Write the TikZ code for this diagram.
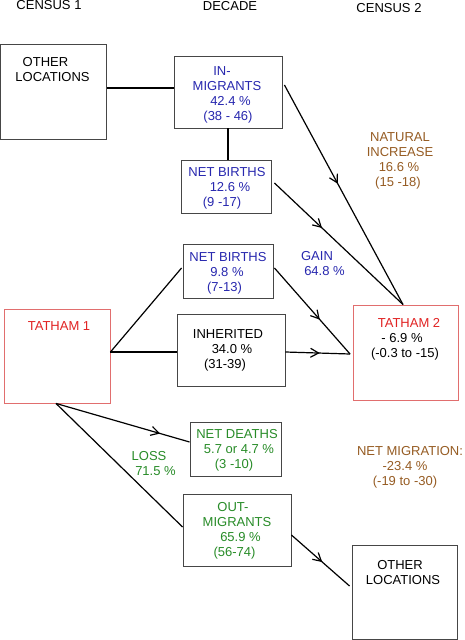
\documentclass[tikz,border=0pt]{standalone}
\usepackage{fontspec}
\setmainfont{Liberation Sans}
\usetikzlibrary{arrows.meta,decorations.markings}
\definecolor{cblue}{RGB}{40,40,175}
\definecolor{cbrown}{RGB}{150,92,35}
\definecolor{cred}{RGB}{225,35,35}
\definecolor{cgreen}{RGB}{40,140,40}
\definecolor{cborder}{RGB}{70,70,70}
\definecolor{credborder}{RGB}{225,110,110}
\newcommand\Ln[2][0pt]{\kern#1\relax\strut#2\kern-#1\relax}
\begin{document}
\begin{tikzpicture}[x=1pt,y=-1pt,
  box/.style={draw=cborder,line width=0.9pt,inner sep=0pt,minimum width=#1},
  rbox/.style={draw=credborder,line width=0.9pt,inner sep=0pt,minimum width=#1},
  txt/.style={inner sep=0pt,align=center,font=\fontsize{13}{15}\selectfont},
  conn/.style={line width=1.2pt,black},
  midarr/.style={postaction={decorate},decoration={markings,
     mark=at position #1 with {\arrow{Straight Barb[length=8pt,width=9pt,line width=1.2pt]}}}}
]
\useasboundingbox (0,0) rectangle (464,640);
\fill[white] (0,0) rectangle (464,640);

% boxes
\node[box=106pt,minimum height=95pt] (ol1) at (53.5,91.5) {};
\node[box=108pt,minimum height=72pt] (inm) at (228,92) {};
\node[box=90pt,minimum height=53pt] (nb1) at (226,186.5) {};
\node[box=90pt,minimum height=54pt] (nb2) at (228,271) {};
\node[box=108pt,minimum height=72pt] (inh) at (231,350) {};
\node[rbox=106pt,minimum height=94pt] (t1) at (57,356) {};
\node[rbox=105pt,minimum height=95pt] (t2) at (405.5,352.5) {};
\node[box=91pt,minimum height=54pt] (nd) at (235.5,449) {};
\node[box=108pt,minimum height=72pt] (om) at (237,530) {};
\node[box=105pt,minimum height=94pt] (ol2) at (404.5,592) {};

% headings
\node[txt] (h1) at (49,6) {\Ln{CENSUS 1}};
\node[txt] (h2) at (230,7) {\Ln{DECADE}};
\node[txt] (h3) at (389,9.7) {\Ln{CENSUS 2}};

% texts
\node[txt] (ol1t) at (52.5,71) {\Ln[-7pt]{OTHER}\\\Ln{LOCATIONS}};
\node[txt,text=cblue] (inmt) at (227,95.2) {\Ln[-5pt]{IN-}\\\Ln{MIGRANTS}\\\Ln[3.5pt]{42.4 \%}\\\Ln[1pt]{(38 - 46)}};
\node[txt,text=cblue] (nb1t) at (227,188.6) {\Ln{NET BIRTHS}\\\Ln[3pt]{12.6 \%}\\\Ln[-5pt]{(9 -17)}};
\node[txt,text=cblue] (nb2t) at (228,273.6) {\Ln{NET BIRTHS}\\\Ln[-1pt]{9.8 \%}\\\Ln[-3.5pt]{(7-13)}};
\node[txt] (inht) at (228,350.6) {\Ln{INHERITED}\\\Ln[4pt]{34.0 \%}\\\Ln[-3pt]{(31-39)}};
\node[txt,text=cred] (t1t) at (59,327.6) {\Ln{TATHAM 1}};
\node[txt] (t2t) at (405,339.6) {\Ln[4pt]{\textcolor{cred}{TATHAM 2}}\\\Ln[-3pt]{- 6.9 \%}\\\Ln{(-0.3 to -15)}};
\node[txt,text=cblue] (gain) at (321,265.1) {\Ln[-4pt]{GAIN}\\\Ln[3.5pt]{64.8 \%}};
\node[txt,text=cbrown] (nat) at (400,161.4) {\Ln{NATURAL}\\\Ln{INCREASE}\\\Ln[-1pt]{16.6 \%}\\\Ln[-2pt]{(15 -18)}};
\node[txt,text=cgreen] (ndt) at (237,450.6) {\Ln{NET DEATHS}\\\Ln[2pt]{5.7 or 4.7 \%}\\\Ln[-3pt]{(3 -10)}};
\node[txt,text=cgreen] (loss) at (152,464.6) {\Ln[-3pt]{LOSS}\\\Ln[3.5pt]{71.5 \%}};
\node[txt,text=cbrown] (nmig) at (407,467.3) {\Ln[3pt]{NET MIGRATION:}\\\Ln[-2pt]{-23.4 \%}\\\Ln[-2pt]{(-19 to -30)}};
\node[txt,text=cgreen] (omt) at (237,531.2) {\Ln[-4pt]{OUT-}\\\Ln{MIGRANTS}\\\Ln[3.5pt]{65.9 \%}\\\Ln[-2.5pt]{(56-74)}};
\node[txt] (ol2t) at (402,574.1) {\Ln[-2pt]{OTHER}\\\Ln[1pt]{LOCATIONS}};

% connectors
\draw[conn] ([yshift=3.5pt]ol1.east) -- ([yshift=3.5pt]ol1.east -| inm.west);
\draw[conn] (inm.south) -- (inm.south |- nb1.north);
\draw[conn,midarr=0.45] ([shift={(2pt,7pt)}]inm.east) -- ([xshift=-2.5pt]t2.north);
\draw[conn,midarr=0.37] ([shift={(3pt,3.5pt)}]nb1.east) -- ([xshift=-2.5pt]t2.north);
\draw[conn,midarr=0.6] ([shift={(1pt,3pt)}]nb2.east) -- ([shift={(-2.5pt,-1.5pt)}]t2.west);
\draw[conn] ([yshift=4pt]t1.east) -- ([shift={(-1pt,3pt)}]nb2.west);
\draw[conn] ([yshift=4pt]t1.east) -- ([yshift=-2pt]inh.west);
\draw[conn,midarr=0.53] ([yshift=-2pt]inh.east) -- ([shift={(-2.5pt,-1.5pt)}]t2.west);
\draw[conn,midarr=0.78] ([xshift=-1pt]t1.south) -- ([yshift=7pt]nd.west);
\draw[conn] ([xshift=-1pt]t1.south) -- ([yshift=3pt]om.west);
\draw[conn,midarr=0.53] ([yshift=-5pt]om.east) -- ([shift={(-2pt,6pt)}]ol2.west);
\end{tikzpicture}
\end{document}
